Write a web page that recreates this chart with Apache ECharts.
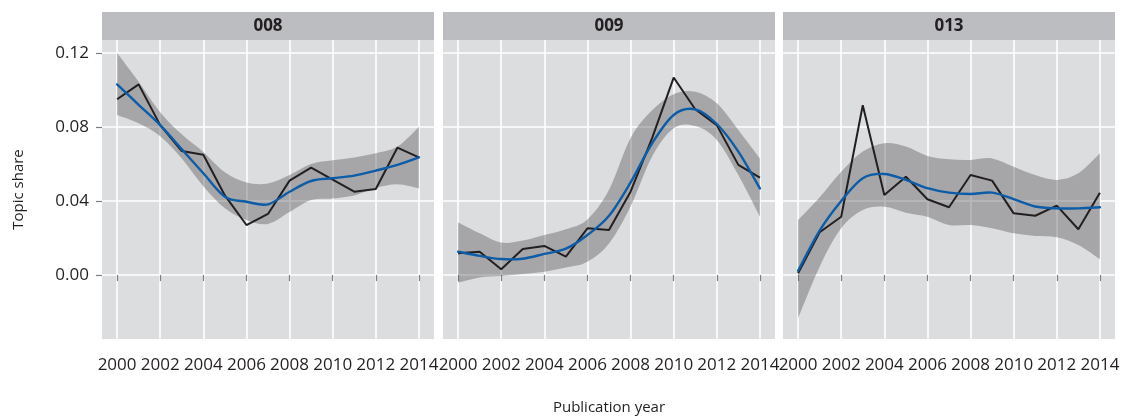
<!DOCTYPE html>
<html>
<head>
<meta charset="utf-8">
<script src="https://cdn.jsdelivr.net/npm/echarts@6/dist/echarts.min.js"></script>
<style>
  html, body { margin: 0; padding: 0; background: #fff; }
  #chart { width: 1121px; height: 418px; }
</style>
</head>
<body>
<div id="chart"></div>
<script>
// Topic share per publication year, one facet per topic
const years = [2000, 2001, 2002, 2003, 2004, 2005, 2006, 2007, 2008, 2009, 2010, 2011, 2012, 2013, 2014];
const panelNames = ['008', '009', '013'];
const xTicks = [2000, 2002, 2004, 2006, 2008, 2010, 2012, 2014];
const yTicks = [0.00, 0.04, 0.08, 0.12];

// observed yearly share
const share008 = [0.095, 0.103, 0.081, 0.067, 0.065, 0.043, 0.027, 0.033, 0.051, 0.058, 0.0515, 0.045, 0.0465, 0.0688, 0.0636];
const share009 = [0.0117, 0.0126, 0.0031, 0.014, 0.0157, 0.0099, 0.0252, 0.0243, 0.045, 0.074, 0.1067, 0.0896, 0.081, 0.0595, 0.0526];
const share013 = [0.0009, 0.0231, 0.0315, 0.0917, 0.0432, 0.0531, 0.0409, 0.0366, 0.054, 0.051, 0.0333, 0.032, 0.0375, 0.0247, 0.0445];

// loess fit
const fit008 = [0.103, 0.092, 0.081, 0.068, 0.055, 0.0423, 0.0396, 0.0382, 0.045, 0.0508, 0.0523, 0.0537, 0.0564, 0.0595, 0.0636];
const fit009 = [0.0126, 0.0103, 0.0086, 0.0088, 0.0114, 0.0142, 0.0216, 0.032, 0.050, 0.0712, 0.0865, 0.0895, 0.0816, 0.0667, 0.0468];
const fit013 = [0.0023, 0.024, 0.040, 0.0523, 0.0546, 0.0514, 0.0469, 0.0445, 0.0438, 0.0445, 0.041, 0.037, 0.036, 0.036, 0.0366];

// confidence band of the fit
const lower008 = [0.0865, 0.082, 0.075, 0.063, 0.048, 0.036, 0.0297, 0.0276, 0.034, 0.0405, 0.0414, 0.043, 0.047, 0.049, 0.0468];
const upper008 = [0.120, 0.1045, 0.0880, 0.076, 0.0665, 0.0555, 0.0500, 0.0495, 0.054, 0.060, 0.062, 0.0635, 0.0658, 0.0694, 0.080];
const lower009 = [-0.0041, -0.0013, -0.0005, 0.0005, 0.0018, 0.004, 0.0072, 0.017, 0.037, 0.064, 0.0793, 0.0805, 0.073, 0.054, 0.0315];
const upper009 = [0.0283, 0.0225, 0.0175, 0.0186, 0.0216, 0.0247, 0.0300, 0.046, 0.0740, 0.089, 0.0977, 0.099, 0.0928, 0.0784, 0.063];
const lower013 = [-0.0234, 0.0045, 0.0252, 0.0351, 0.0369, 0.0337, 0.0315, 0.027, 0.027, 0.0252, 0.0225, 0.0211, 0.0204, 0.0162, 0.0085];
const upper013 = [0.0297, 0.042, 0.0558, 0.0667, 0.0712, 0.0694, 0.0643, 0.0625, 0.0622, 0.063, 0.0585, 0.054, 0.0514, 0.055, 0.0658];

const panels = [
  { share: share008, fit: fit008, lower: lower008, upper: upper008 },
  { share: share009, fit: fit009, lower: lower009, upper: upper009 },
  { share: share013, fit: fit013, lower: lower013, upper: upper013 }
];

const FONT = '"Open Sans", "Noto Sans", sans-serif';
const PANEL_BG = '#dcdddf';
const STRIP_BG = '#bcbdc1';
const BAND = 'rgba(90, 91, 95, 0.42)';
const TICK = '#7d7e80';
const TEXT = '#231f20';
const FIT = '#0c5ca8';

const gridLeft = [102, 443, 783];
const gridWidth = 332;
const gridTop = 40;
const gridBottom = 79;
const xMin = 1999.3, xMax = 2014.7;
const yMin = -0.0346, yMax = 0.127;

// Catmull-Rom curve through pixel points, as SVG path commands (no leading M)
function splineCmds(pts) {
  let d = '';
  for (let i = 0; i < pts.length - 1; i++) {
    const p0 = pts[Math.max(i - 1, 0)], p1 = pts[i], p2 = pts[i + 1], p3 = pts[Math.min(i + 2, pts.length - 1)];
    const c1x = p1[0] + (p2[0] - p0[0]) / 6, c1y = p1[1] + (p2[1] - p0[1]) / 6;
    const c2x = p2[0] - (p3[0] - p1[0]) / 6, c2y = p2[1] - (p3[1] - p1[1]) / 6;
    d += ' C' + c1x + ' ' + c1y + ' ' + c2x + ' ' + c2y + ' ' + p2[0] + ' ' + p2[1];
  }
  return d;
}

// band: data rows [year, lower, upper]; drawn as one filled shape
function renderBand(params, api) {
  if (params.dataIndexInside !== 0) return null;
  const n = params.dataInsideLength;
  const up = [], lo = [];
  for (let i = 0; i < n; i++) {
    const x = api.value(0, i);
    lo.push(api.coord([x, api.value(1, i)]));
    up.push(api.coord([x, api.value(2, i)]));
  }
  const loRev = lo.slice().reverse();
  const d = 'M' + up[0][0] + ' ' + up[0][1] + splineCmds(up) +
    ' L' + loRev[0][0] + ' ' + loRev[0][1] + splineCmds(loRev) + ' Z';
  return { type: 'path', shape: { pathData: d }, style: { fill: BAND, stroke: null } };
}

// fitted trend: data rows [year, fit]; drawn as one smooth stroke
function renderFit(params, api) {
  if (params.dataIndexInside !== 0) return null;
  const n = params.dataInsideLength;
  const pts = [];
  for (let i = 0; i < n; i++) pts.push(api.coord([api.value(0, i), api.value(1, i)]));
  const d = 'M' + pts[0][0] + ' ' + pts[0][1] + splineCmds(pts);
  return {
    type: 'path', shape: { pathData: d },
    style: { fill: null, stroke: FIT, lineWidth: 2.4, lineJoin: 'round', lineCap: 'round' }
  };
}

const pair = (arr) => years.map((y, i) => [y, arr[i]]);

const grids = [], xAxes = [], yAxes = [], series = [], graphics = [];

panels.forEach((p, k) => {
  grids.push({
    left: gridLeft[k], width: gridWidth, top: gridTop, bottom: gridBottom,
    show: true, backgroundColor: PANEL_BG, borderWidth: 0,
    containLabel: false, outerBoundsMode: 'none'
  });
  xAxes.push({
    type: 'value', gridIndex: k, min: xMin, max: xMax,
    axisLine: { show: false },
    axisTick: { show: true, customValues: xTicks, length: 6, lineStyle: { color: TICK, width: 1.2 } },
    axisLabel: {
      customValues: xTicks, margin: 18, color: TEXT, fontFamily: FONT, fontSize: 17,
      formatter: (v) => String(Math.round(v))
    },
    splitLine: { show: true, lineStyle: { color: '#ffffff', width: 1.6 } },
    name: k === 1 ? 'Publication year' : '',
    nameLocation: 'middle', nameGap: 61,
    nameTextStyle: { color: TEXT, fontFamily: FONT, fontSize: 15 }
  });
  yAxes.push({
    type: 'value', gridIndex: k, min: yMin, max: yMax,
    axisLine: { show: false },
    axisTick: { show: k === 0, customValues: yTicks, length: 6, lineStyle: { color: TICK, width: 1.2 } },
    axisLabel: {
      show: k === 0, customValues: yTicks, margin: 13, color: TEXT, fontFamily: FONT, fontSize: 17,
      formatter: (v) => v.toFixed(2)
    },
    splitLine: { show: true, lineStyle: { color: '#ffffff', width: 1.6 } },
    name: k === 0 ? 'Topic share' : '',
    nameLocation: 'middle', nameRotate: 90, nameGap: 76,
    nameTextStyle: { color: TEXT, fontFamily: FONT, fontSize: 15 }
  });

  series.push({
    type: 'custom', xAxisIndex: k, yAxisIndex: k, silent: true, z: 2,
    data: years.map((y, i) => [y, p.lower[i], p.upper[i]]),
    encode: { x: 0, y: [1, 2] },
    renderItem: renderBand
  });
  series.push({
    type: 'line', xAxisIndex: k, yAxisIndex: k, data: pair(p.share),
    symbol: 'none', lineStyle: { color: '#231f20', width: 2 }, z: 3
  });
  series.push({
    type: 'custom', xAxisIndex: k, yAxisIndex: k, silent: true, z: 4,
    data: pair(p.fit),
    encode: { x: 0, y: 1 },
    renderItem: renderFit
  });

  // facet strip
  graphics.push({
    type: 'group', left: gridLeft[k], top: 12,
    children: [
      { type: 'rect', shape: { x: 0, y: 0, width: gridWidth, height: 28 }, style: { fill: STRIP_BG } },
      {
        type: 'text', x: gridWidth / 2, y: 14,
        style: {
          text: panelNames[k], fill: TEXT, font: 'bold 17px ' + FONT,
          textAlign: 'center', textVerticalAlign: 'middle'
        }
      }
    ]
  });
});

const chart = echarts.init(document.getElementById('chart'), null, { renderer: 'canvas' });
chart.setOption({
  animation: false,
  backgroundColor: '#ffffff',
  grid: grids,
  xAxis: xAxes,
  yAxis: yAxes,
  series: series,
  graphic: graphics
});
</script>
</body>
</html>
